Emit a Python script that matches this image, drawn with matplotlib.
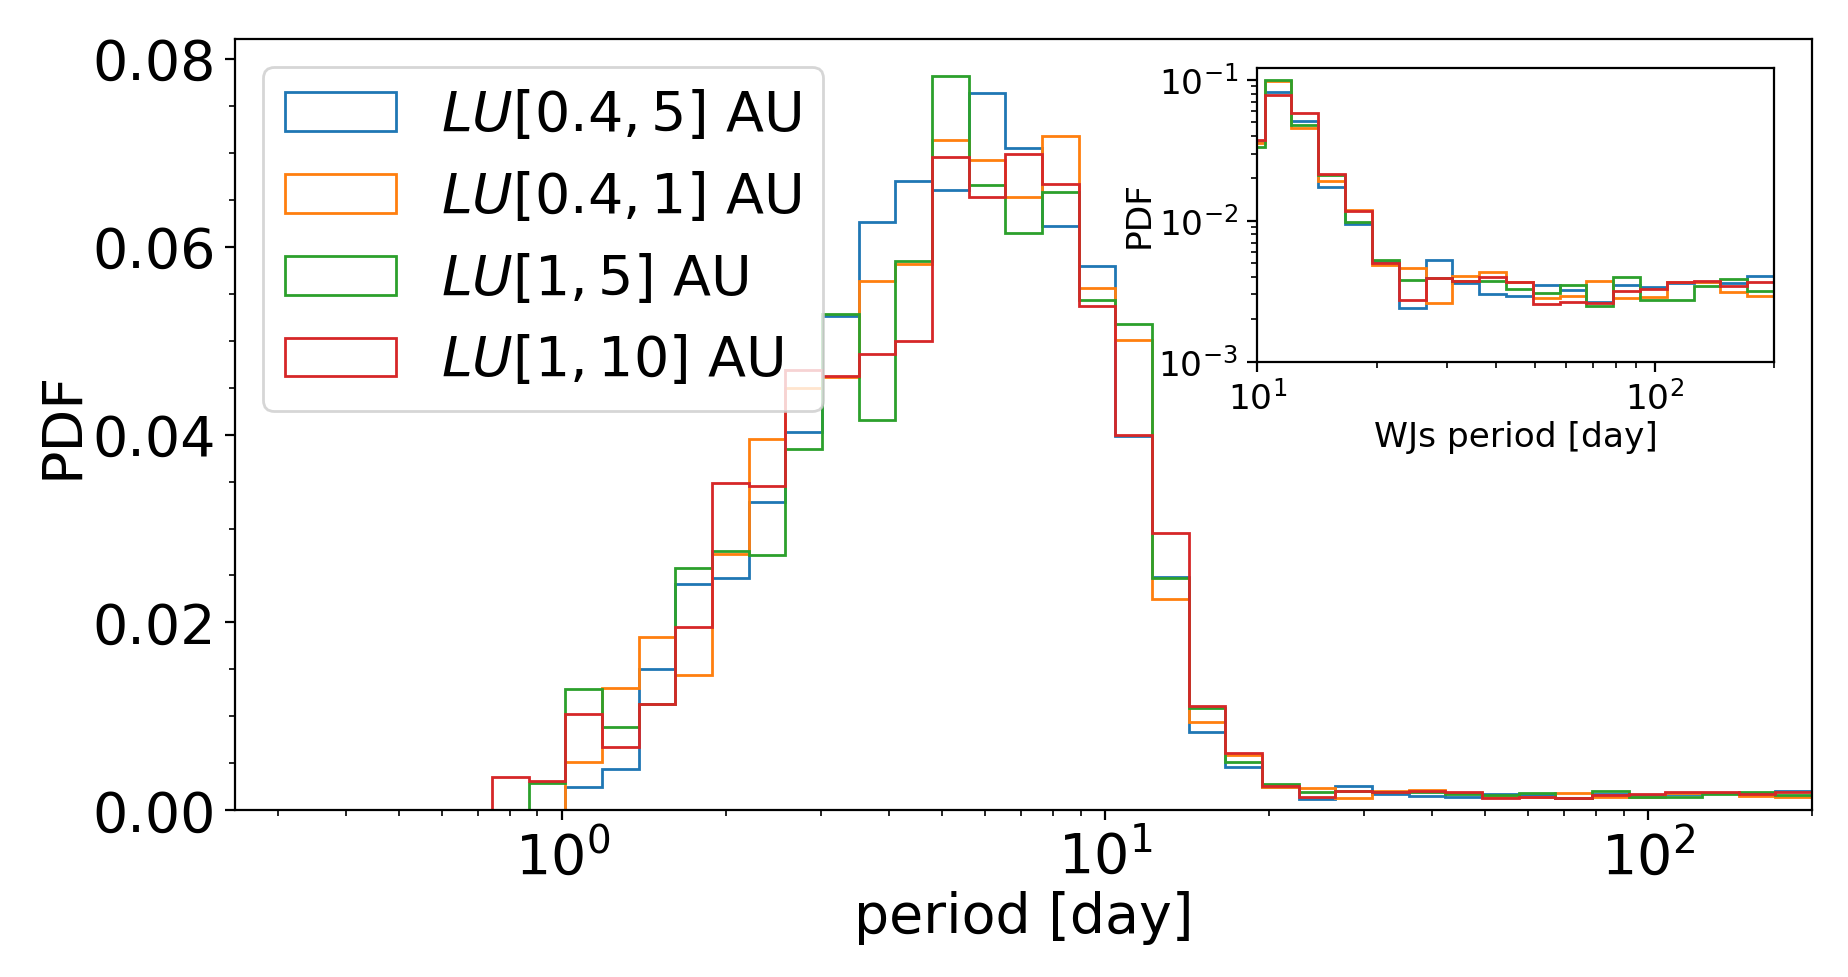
import numpy as np
import matplotlib
matplotlib.use("Agg")
import matplotlib.pyplot as plt
from matplotlib.ticker import AutoMinorLocator

# ---- data ----
# log-spaced bins (43 bins between 0.25 and 200 days)
bin_lo, bin_hi, n_bins = 0.25, 200.0, 43
labels = [r"$LU[0.4,5]$ AU", r"$LU[0.4,1]$ AU", r"$LU[1,5]$ AU", r"$LU[1,10]$ AU"]
colors = ["#1f77b4", "#ff7f0e", "#2ca02c", "#d62728"]

# main-panel PDF per bin (bins 0..42)
pdf_blue = [0, 0, 0, 0, 0, 0, 0, 0, 0,
            0.00253, 0.00439, 0.0150, 0.02407, 0.02469, 0.03287, 0.04022, 0.0526,
            0.0626, 0.06695, 0.06599, 0.07638, 0.07053, 0.06216, 0.0579, 0.0399,
            0.02485, 0.00836, 0.00457, 0.00252, 0.00119, 0.00262, 0.00179, 0.00149,
            0.00145, 0.00172, 0.00159, 0.00131, 0.00175, 0.00168, 0.00178, 0.00183,
            0.00178, 0.00202]
pdf_orange = [0, 0, 0, 0, 0, 0, 0, 0, 0,
              0.0051, 0.01298, 0.01847, 0.01436, 0.0273, 0.03955, 0.04496, 0.04615,
              0.0563, 0.0582, 0.07131, 0.06926, 0.06528, 0.07173, 0.05564, 0.0501,
              0.02245, 0.00943, 0.00588, 0.00245, 0.00233, 0.0013, 0.00204, 0.00218,
              0.00185, 0.00141, 0.00147, 0.00187, 0.00141, 0.00145, 0.00184, 0.00183,
              0.00155, 0.00147]
pdf_green = [0, 0, 0, 0, 0, 0, 0, 0, 0.00287,
             0.01287, 0.00884, 0.01127, 0.02575, 0.02757, 0.02716, 0.03843, 0.0528,
             0.0415, 0.05844, 0.0782, 0.06652, 0.06145, 0.06581, 0.05436, 0.05181,
             0.02468, 0.01085, 0.0051, 0.00276, 0.00199, 0.00203, 0.00195, 0.00194,
             0.0017, 0.00159, 0.00181, 0.0013, 0.00209, 0.00144, 0.00144, 0.00179,
             0.002, 0.00164]
pdf_red = [0, 0, 0, 0, 0, 0, 0, 0.00354, 0.0031,
           0.01026, 0.00671, 0.01137, 0.01947, 0.03481, 0.03451, 0.0469, 0.04627,
           0.0486, 0.04993, 0.06953, 0.06528, 0.0699, 0.0667, 0.05365, 0.03993,
           0.02957, 0.01113, 0.00606, 0.00263, 0.00141, 0.00203, 0.00194, 0.00209,
           0.0019, 0.00133, 0.00137, 0.00135, 0.00164, 0.0017, 0.0019, 0.00195,
           0.00178, 0.0019]

# inset (warm Jupiters, P > 10 d) PDF for bins 23..42
wj_first_bin = 23
wj_blue = [0.0365, 0.0818, 0.0510, 0.0175, 0.00947, 0.0051, 0.0024, 0.0053, 0.00362, 0.00301,
           0.00292, 0.00348, 0.00322, 0.00264, 0.00353, 0.0034, 0.0036, 0.0037, 0.0036, 0.00409]
wj_orange = [0.0356, 0.099, 0.0457, 0.0192, 0.0120, 0.00489, 0.00465, 0.00259, 0.00408, 0.00436,
             0.0037, 0.00281, 0.00294, 0.00374, 0.00281, 0.0029, 0.00367, 0.00365, 0.0031, 0.00294]
wj_green = [0.0334, 0.1, 0.0478, 0.02105, 0.00984, 0.0053, 0.00382, 0.0039, 0.00375, 0.00374,
            0.00326, 0.00305, 0.00348, 0.0025, 0.00402, 0.00276, 0.00276, 0.00344, 0.00385, 0.00315]
wj_red = [0.0376, 0.0783, 0.0584, 0.02153, 0.01177, 0.00505, 0.00272, 0.00391, 0.00374, 0.00401,
          0.00366, 0.00255, 0.00264, 0.0026, 0.00315, 0.00327, 0.00365, 0.00375, 0.00342, 0.00366]

main_series = [pdf_blue, pdf_orange, pdf_green, pdf_red]
wj_series = [wj_blue, wj_orange, wj_green, wj_red]

# ---- figure ----
edges = np.logspace(np.log10(bin_lo), np.log10(bin_hi), n_bins + 1)
centers = np.sqrt(edges[:-1] * edges[1:])

fig = plt.figure(figsize=(9.24, 4.885), dpi=200)
ax = fig.add_axes([0.1273, 0.1706, 0.8532, 0.7894])

for vals, col, lab in zip(main_series, colors, labels):
    ax.hist(centers, bins=edges, weights=vals, histtype="step", color=col, label=lab, linewidth=1.0)

ax.set_xscale("log")
ax.set_xlim(bin_lo, bin_hi)
ax.set_ylim(0, 0.0821)
ax.yaxis.set_minor_locator(AutoMinorLocator(4))
ax.tick_params(axis="both", which="major", labelsize=20)
ax.set_xlabel("period [day]", fontsize=20, labelpad=2)
ax.set_ylabel("PDF", fontsize=20, labelpad=1)
ax.legend(loc="upper left", fontsize=20)

# inset
axi = fig.add_axes([0.6804, 0.6298, 0.2796, 0.3003])
wj_edges = edges[wj_first_bin:]
wj_centers = centers[wj_first_bin:]
for vals, col in zip(wj_series, colors):
    axi.hist(wj_centers, bins=wj_edges, weights=vals, histtype="step", color=col, linewidth=1.0)
axi.set_xscale("log")
axi.set_yscale("log")
axi.set_xlim(10, 200)
axi.set_ylim(1e-3, 0.121)
axi.tick_params(axis="both", which="major", labelsize=12.4)
axi.set_xlabel("WJs period [day]", fontsize=12.4, labelpad=1.5)
axi.set_ylabel("PDF", fontsize=12.4, labelpad=1)

fig.savefig("out.png", dpi=200, facecolor="white")
